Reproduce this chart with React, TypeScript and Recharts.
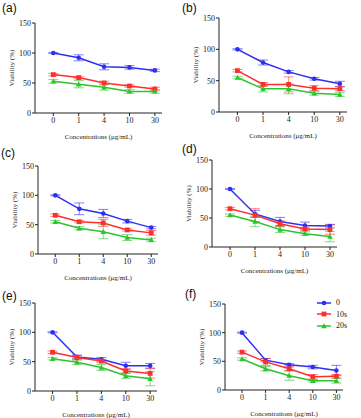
import React from 'react';
import {ErrorBar, Line, LineChart, XAxis, YAxis} from 'recharts';

const concentrations = ['0', '1', '4', '10', '30'];
const seriesNames = ['0', '10s', '20s'];
const yTicks = [0, 50, 100, 150];

// panel (a)
const a0 = [100, 92, 77, 76, 71];
const a0Err = [1, 5, 5, 3, 2];
const a10 = [64, 59, 50, 45, 40];
const a10Err = [2, 2, 3, 2, 3];
const a20 = [53, 48, 43, 36, 36];
const a20Err = [3, 6, 5, 3, 3];

// panel (b)
const b0 = [100, 79, 64, 53, 45];
const b0Err = [1, 4, 2, 2, 4];
const b10 = [66, 44, 44, 38, 37];
const b10Err = [2, 3, 12, 4, 3];
const b20 = [55, 37, 37, 30, 28];
const b20Err = [2, 5, 8, 3, 3];

// panel (c)
const c0 = [100, 77, 69, 56, 45];
const c0Err = [1, 10, 7, 3, 2];
const c10 = [66, 55, 53, 41, 36];
const c10Err = [2, 2, 6, 2, 4];
const c20 = [55, 44, 38, 28, 24];
const c20Err = [2, 3, 12, 5, 3];

// panel (d)
const d0 = [100, 57, 44, 37, 36];
const d0Err = [1, 6, 7, 6, 3];
const d10 = [66, 55, 40, 31, 30];
const d10Err = [2, 11, 5, 3, 8];
const d20 = [55, 44, 30, 23, 18];
const d20Err = [2, 9, 5, 3, 9];

// panel (e)
const e0 = [100, 58, 54, 43, 43];
const e0Err = [1, 3, 3, 6, 4];
const e10 = [66, 57, 51, 34, 30];
const e10Err = [2, 4, 3, 4, 8];
const e20 = [55, 49, 40, 26, 21];
const e20Err = [2, 4, 5, 5, 12];

// panel (f)
const f0 = [100, 52, 44, 40, 34];
const f0Err = [1, 3, 2, 3, 9];
const f10 = [66, 49, 37, 23, 24];
const f10Err = [2, 6, 3, 4, 3];
const f20 = [54, 37, 25, 16, 16];
const f20Err = [2, 4, 8, 2, 4];

const BLUE = '#2f2ff2';
const RED = '#ff2e2e';
const GREEN = '#2ec42e';
const colors = [BLUE, RED, GREEN];

const serif = '"Liberation Serif", "DejaVu Serif", serif';

const build = (s0: number[], e0: number[], s1: number[], e1: number[], s2: number[], e2: number[]) =>
    concentrations.map((c, i) => ({i, c, v0: s0[i], e0: e0[i], v1: s1[i], e1: e1[i], v2: s2[i], e2: e2[i]}));

const panels = [
    {id: 'a', data: build(a0, a0Err, a10, a10Err, a20, a20Err), axisX: 35, right: 162, top: 23, bottom: 113, lx: 2, ly: 1},
    {id: 'b', data: build(b0, b0Err, b10, b10Err, b20, b20Err), axisX: 219, right: 347, top: 18, bottom: 112, lx: 182, ly: 1},
    {id: 'c', data: build(c0, c0Err, c10, c10Err, c20, c20Err), axisX: 38, right: 158, top: 166, bottom: 254, lx: 1, ly: 146},
    {id: 'd', data: build(d0, d0Err, d10, d10Err, d20, d20Err), axisX: 212, right: 337, top: 160, bottom: 247, lx: 182, ly: 142},
    {id: 'e', data: build(e0, e0Err, e10, e10Err, e20, e20Err), axisX: 35, right: 157, top: 303, bottom: 391, lx: 2, ly: 289},
    {id: 'f', data: build(f0, f0Err, f10, f10Err, f20, f20Err), axisX: 225, right: 343, top: 304, bottom: 390, lx: 185, ly: 287},
];

const circleDot = (color: string) => (p: any) =>
    p.cx == null ? null : <circle key={p.index} cx={p.cx} cy={p.cy} r={2.3} fill={color}/>;
const squareDot = (color: string) => (p: any) =>
    p.cx == null ? null : <rect key={p.index} x={p.cx - 2.4} y={p.cy - 2.4} width={4.8} height={4.8} fill={color}/>;
const triDot = (color: string) => (p: any) =>
    p.cx == null ? null : (
        <path key={p.index} d={`M${p.cx},${p.cy - 2.8}L${p.cx + 2.8},${p.cy + 2.2}L${p.cx - 2.8},${p.cy + 2.2}Z`} fill={color}/>
    );
const dots = [circleDot, squareDot, triDot];

const LegendBox = () => (
    <div style={{position: 'absolute', left: 316, top: 297, fontFamily: serif, fontSize: 8, color: '#222'}}>
        {seriesNames.map((n, k) => (
            <div key={n} style={{display: 'flex', alignItems: 'center', height: 11.5}}>
                <svg width={16} height={8}>
                    <line x1={1} y1={4} x2={15} y2={4} stroke={colors[k]} strokeWidth={1.5}/>
                    {k === 0 && <circle cx={8} cy={4} r={2.3} fill={colors[k]}/>}
                    {k === 1 && <rect x={5.6} y={1.6} width={4.8} height={4.8} fill={colors[k]}/>}
                    {k === 2 && <path d="M8,1.2L10.8,6.2L5.2,6.2Z" fill={colors[k]}/>}
                </svg>
                <span style={{marginLeft: 4}}>{n}</span>
            </div>
        ))}
    </div>
);

const YW = 30;
const XH = 30;
const MT = 8;
const MR = 5;

const Panel = ({p}: {p: (typeof panels)[number]}) => {
    const width = p.right - p.axisX + YW + MR;
    const height = p.bottom - p.top + MT + XH;
    return (
        <>
            <div style={{position: 'absolute', left: p.lx, top: p.ly, fontFamily: '"Liberation Sans", Arial, sans-serif', fontSize: 12, lineHeight: '14px', color: '#111'}}>
                ({p.id})
            </div>
            <div style={{position: 'absolute', left: p.axisX - YW, top: p.top - MT}}>
                <LineChart width={width} height={height} data={p.data} margin={{top: MT, right: MR, left: 0, bottom: 0}}>
                    <XAxis dataKey="i" type="number" domain={[-0.72, 4.28]} ticks={[0, 1, 2, 3, 4]}
                           tickFormatter={(v: number) => concentrations[v]} height={XH}
                           tick={{fontSize: 8, fontFamily: serif, fill: '#222'}} tickSize={3} tickMargin={1}
                           axisLine={{stroke: '#222'}} tickLine={{stroke: '#222'}}
                           label={{value: 'Concentrations (μg/mL)', position: 'insideBottom', offset: 4, style: {fontSize: 7, fontFamily: serif, fill: '#222'}}}/>
                    <YAxis domain={[0, 150]} ticks={yTicks} width={YW} allowDataOverflow
                           tick={{fontSize: 8, fontFamily: serif, fill: '#222'}} tickSize={3} tickMargin={1}
                           axisLine={{stroke: '#222'}} tickLine={{stroke: '#222'}}
                           label={{value: 'Viability (%)', angle: -90, position: 'insideLeft', offset: 7, style: {fontSize: 7, fontFamily: serif, fill: '#222', textAnchor: 'middle'}}}/>
                    {[0, 1, 2].map((k) => (
                        <Line key={k} dataKey={`v${k}`} stroke={colors[k]} strokeWidth={1.5} dot={dots[k](colors[k])}
                              activeDot={false} isAnimationActive={false}>
                            <ErrorBar dataKey={`e${k}`} width={5} stroke={colors[k]} strokeOpacity={0.6} strokeWidth={1} direction="y"/>
                        </Line>
                    ))}
                </LineChart>
            </div>
        </>
    );
};

export default function App() {
    return (
        <div style={{position: 'absolute', left: 0, top: 0, width: 361, height: 418, overflow: 'hidden', background: '#fff'}}>
            {panels.map((p) => <Panel key={p.id} p={p}/>)}
            <LegendBox/>
        </div>
    );
}
